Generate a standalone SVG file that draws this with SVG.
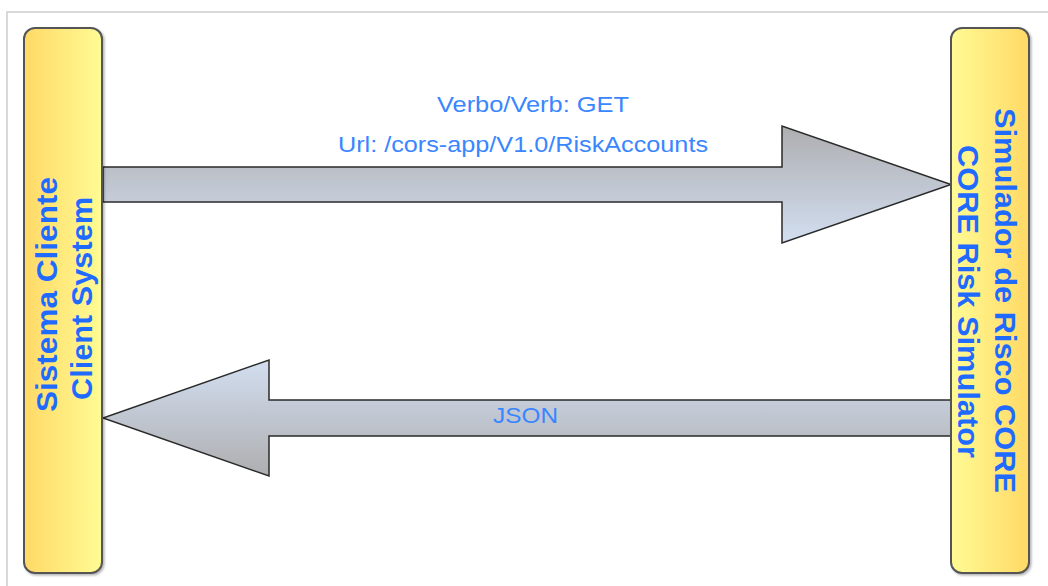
<svg xmlns="http://www.w3.org/2000/svg" width="1048" height="586" viewBox="0 0 1048 586">
  <defs>
    <linearGradient id="gNodeL" x1="0" y1="0" x2="1" y2="0">
      <stop offset="0" stop-color="#FFD966"/>
      <stop offset="1" stop-color="#FFFB94"/>
    </linearGradient>
    <linearGradient id="gNodeR" x1="0" y1="0" x2="1" y2="0">
      <stop offset="0" stop-color="#FFFB94"/>
      <stop offset="1" stop-color="#FFD966"/>
    </linearGradient>
    <linearGradient id="gArrDown" x1="0" y1="0" x2="0" y2="1">
      <stop offset="0" stop-color="#AEAEB0"/>
      <stop offset="1" stop-color="#D2DEF0"/>
    </linearGradient>
    <linearGradient id="gArrUp" x1="0" y1="0" x2="0" y2="1">
      <stop offset="0" stop-color="#D2DEF0"/>
      <stop offset="1" stop-color="#AEAEB0"/>
    </linearGradient>
    <filter id="sh" x="-10%" y="-10%" width="130%" height="130%">
      <feDropShadow dx="1.5" dy="1.5" stdDeviation="1.2" flood-color="#000" flood-opacity="0.3"/>
    </filter>
  </defs>
  <style>
    .frame { fill: #ffffff; stroke: #d9d9d9; stroke-width: 2; }
    .node { stroke: #555555; stroke-width: 2; filter: url(#sh); }
    .arrow { stroke: #2a2a2a; stroke-width: 1.5; stroke-linejoin: miter; }
    .vlabel { font-family: "Liberation Sans", Arial, sans-serif; font-weight: bold; font-size: 30px; fill: #1F6BFF; }
    .elabel { font-family: "Liberation Sans", Arial, sans-serif; font-size: 22px; fill: #3A86FF; }
  </style>
  <rect x="0" y="0" width="1048" height="586" fill="#ffffff"/>
  <rect class="frame" x="7" y="12" width="1100" height="640"/>

  <g id="connectors">
    <g id="edge-request">
      <polygon class="arrow" fill="url(#gArrDown)" points="103,167 782,167 782,126 951,184.5 782,243 782,202 103,202"/>
      <text class="elabel" x="533" y="112" text-anchor="middle" textLength="192" lengthAdjust="spacingAndGlyphs">Verbo/Verb: GET</text>
      <text class="elabel" x="523" y="152" text-anchor="middle" textLength="370" lengthAdjust="spacingAndGlyphs">Url: /cors-app/V1.0/RiskAccounts</text>
    </g>
    <g id="edge-response">
      <polygon class="arrow" fill="url(#gArrUp)" points="951,400 269,400 269,360 103,418 269,476 269,436 951,436"/>
      <text class="elabel" x="525.5" y="423" text-anchor="middle" textLength="65" lengthAdjust="spacingAndGlyphs">JSON</text>
    </g>
  </g>

  <g id="node-client">
    <rect class="node" x="24" y="28" width="78" height="545" rx="11" ry="11" fill="url(#gNodeL)"/>
    <text class="vlabel" transform="translate(57,294.5) rotate(-90)" text-anchor="middle" textLength="235" lengthAdjust="spacingAndGlyphs">Sistema Cliente</text>
    <text class="vlabel" transform="translate(92,298.5) rotate(-90)" text-anchor="middle" textLength="203" lengthAdjust="spacingAndGlyphs">Client System</text>
  </g>

  <g id="node-simulator">
    <rect class="node" x="951" y="28" width="78" height="545" rx="11" ry="11" fill="url(#gNodeR)"/>
    <text class="vlabel" transform="translate(995,300.5) rotate(90)" text-anchor="middle" textLength="385" lengthAdjust="spacingAndGlyphs">Simulador de Risco CORE</text>
    <text class="vlabel" transform="translate(958,301.5) rotate(90)" text-anchor="middle" textLength="313" lengthAdjust="spacingAndGlyphs">CORE Risk Simulator</text>
  </g>
</svg>
